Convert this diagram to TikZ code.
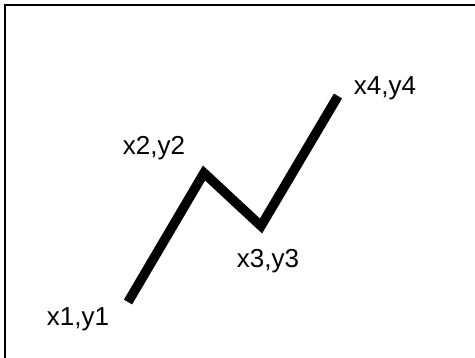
\documentclass[tikz,border=0pt]{standalone}
\usepackage{fontspec}
\setmainfont{Liberation Sans}
\begin{document}
\begin{tikzpicture}[x=1pt,y=-1pt,
  lbl/.style={inner sep=0pt,anchor=base,font=\fontsize{26}{31}\selectfont},
  frameline/.style={line width=2.2pt},
  path/.style={line width=9.5pt,line join=miter,line cap=butt}]
\useasboundingbox (0,0) rectangle (475,358);
\coordinate (fa) at (5,358);
\coordinate (fb) at (5,5);
\coordinate (fc) at (475,5);
\draw[frameline] (fa) -- (fb) -- (fc);
\coordinate (p1) at (128,302);
\coordinate (p2) at (204,173);
\coordinate (p3) at (261,226);
\coordinate (p4) at (338,96);
\draw[path] (p1) -- (p2) -- (p3) -- (p4);
\node[lbl] (l1) at (78,326) {x1,y1};
\node[lbl] (l2) at (154,155) {x2,y2};
\node[lbl] (l3) at (268,268) {x3,y3};
\node[lbl] (l4) at (385,95) {x4,y4};
\end{tikzpicture}
\end{document}
